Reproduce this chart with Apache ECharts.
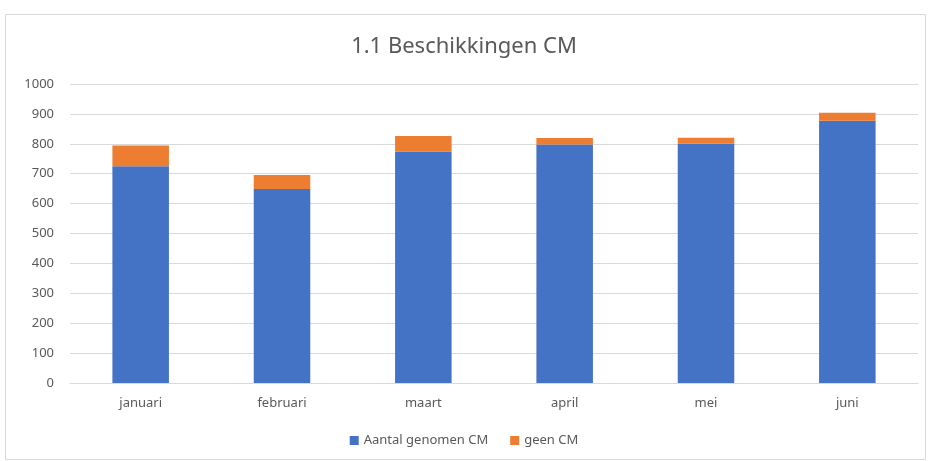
<!DOCTYPE html>
<html>
<head>
<meta charset="utf-8">
<script src="https://cdn.jsdelivr.net/npm/echarts@6/dist/echarts.min.js"></script>
<style>
  html, body { margin: 0; padding: 0; background: #fff; }
  #main { width: 928px; height: 461px; }
</style>
</head>
<body>
<div id="main"></div>
<script>
var months = ['januari', 'februari', 'maart', 'april', 'mei', 'juni'];
var genomen = [725, 649, 774, 798, 800, 877];
var geenCM = [69, 47, 52, 21, 20, 27];
var seriesNames = ['Aantal genomen CM', 'geen CM'];

var myChart = echarts.init(document.getElementById('main'));
var font = 'Noto Sans';
option = {
    animation: false,
    textStyle: { fontFamily: font },
    title: {
        text: '1.1 Beschikkingen CM',
        left: 'center',
        top: 31,
        textStyle: { fontSize: 22, fontWeight: 'normal', color: '#595959', fontFamily: font }
    },
    graphic: [{
        type: 'rect',
        shape: { x: 5.5, y: 14.5, width: 920, height: 445 },
        style: { fill: 'none', stroke: '#d9d9d9', lineWidth: 1 },
        silent: true
    }],
    legend: {
        data: seriesNames,
        bottom: 9,
        itemWidth: 9,
        itemHeight: 9,
        itemGap: 22,
        icon: 'rect',
        textStyle: { fontSize: 13, color: '#595959', fontFamily: font }
    },
    grid: { left: 70, right: 10, top: 84, bottom: 78, containLabel: false },
    xAxis: {
        type: 'category',
        data: months,
        axisLine: { lineStyle: { color: '#d9d9d9' } },
        axisTick: { show: false },
        axisLabel: { color: '#595959', fontSize: 13, margin: 14 }
    },
    yAxis: {
        type: 'value',
        min: 0,
        max: 1000,
        interval: 100,
        axisLine: { show: false },
        axisTick: { show: false },
        axisLabel: { color: '#595959', fontSize: 13, margin: 16, formatter: function (v) { return String(v); } },
        splitLine: { lineStyle: { color: '#d9d9d9' } }
    },
    series: [{
        name: seriesNames[0],
        type: 'bar',
        stack: 'cm',
        barWidth: '40%',
        itemStyle: { color: '#4472C4' },
        data: genomen
    }, {
        name: seriesNames[1],
        type: 'bar',
        stack: 'cm',
        barWidth: '40%',
        itemStyle: { color: '#ED7D31' },
        data: geenCM
    }]
};
myChart.setOption(option);
</script>
</body>
</html>
